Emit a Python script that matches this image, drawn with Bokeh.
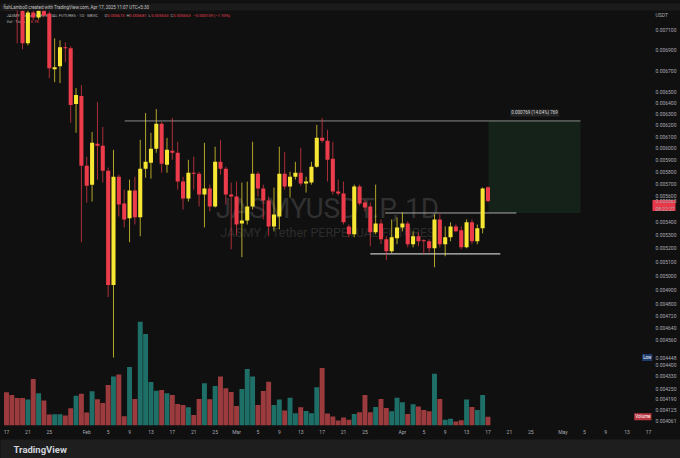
import math
from bokeh.plotting import figure
from bokeh.models import (Range1d, LinearScale, FixedTicker, PrintfTickFormatter, Label, Title,
                          ColumnDataSource, GlobalInlineStyleSheet)
from bokeh.embed import file_html
from bokeh.resources import INLINE

# ---------------- data (day index 0 = 2025-01-17, daily candles) ----------------
day_index = list(range(91))

open_ = [0.007900, 0.007640, 0.007480, 0.007360, 0.006970, 0.007284, 0.007233, 0.007305, 0.007274, 0.006717,
         0.006745, 0.006931, 0.006921, 0.006391, 0.006464, 0.005851, 0.005695, 0.006038, 0.006020, 0.005810,
         0.004933, 0.005760, 0.005543, 0.005427, 0.005647, 0.005435, 0.005826, 0.005876, 0.005995, 0.006212,
         0.005860, 0.005978, 0.005961, 0.005720, 0.005583, 0.005793, 0.005785, 0.005615, 0.005663, 0.005520,
         0.005884, 0.005826, 0.005615, 0.005599, 0.005388, 0.005411, 0.005520, 0.005785, 0.005663, 0.005567,
         0.005365, 0.005442, 0.005785, 0.005679, 0.005760, 0.005793, 0.005704, 0.005712, 0.005843, 0.006089,
         0.006063, 0.005909, 0.005639, 0.005623, 0.005365, 0.005305, 0.005679, 0.005551, 0.005520, 0.005320,
         0.005388, 0.005267, 0.005177, 0.005275, 0.005357, 0.005388, 0.005230, 0.005290, 0.005260, 0.005252,
         0.005200, 0.005419, 0.005230, 0.005282, 0.005365, 0.005335, 0.005207, 0.005396, 0.005252, 0.005350,
         0.005673]
high = [0.007960, 0.007720, 0.007560, 0.007400, 0.007357, 0.007315, 0.007367, 0.007357, 0.007295, 0.007020,
        0.007000, 0.006980, 0.006941, 0.006538, 0.006566, 0.005927, 0.006141, 0.006409, 0.006185, 0.005835,
        0.005986, 0.005777, 0.005655, 0.005736, 0.005760, 0.006072, 0.006309, 0.006133, 0.006345, 0.006229,
        0.006089, 0.006265, 0.006055, 0.005760, 0.005901, 0.005927, 0.005801, 0.006046, 0.005695, 0.006012,
        0.006072, 0.005843, 0.005712, 0.005720, 0.005712, 0.005720, 0.006055, 0.005801, 0.005695, 0.005599,
        0.005671, 0.006012, 0.005969, 0.005801, 0.005884, 0.006003, 0.005760, 0.005884, 0.006203, 0.006265,
        0.006159, 0.006055, 0.005736, 0.005720, 0.005380, 0.005695, 0.005695, 0.005575, 0.005551, 0.005695,
        0.005419, 0.005290, 0.005419, 0.005435, 0.005473, 0.005404, 0.005327, 0.005320, 0.005267, 0.005267,
        0.005458, 0.005458, 0.005365, 0.005396, 0.005380, 0.005365, 0.005419, 0.005419, 0.005380, 0.005671,
        0.005681]
low = [0.007580, 0.007420, 0.006970, 0.006911, 0.006950, 0.007202, 0.007212, 0.007233, 0.006632, 0.006594,
       0.006585, 0.006784, 0.006221, 0.006133, 0.005245, 0.005551, 0.005559, 0.005736, 0.005712, 0.004850,
       0.004448, 0.005442, 0.005357, 0.005245, 0.005380, 0.005290, 0.005752, 0.005744, 0.005961, 0.005793,
       0.005793, 0.005901, 0.005655, 0.005496, 0.005559, 0.005655, 0.005520, 0.005357, 0.005481, 0.005512,
       0.005777, 0.005535, 0.005192, 0.005297, 0.005134, 0.005380, 0.005496, 0.005599, 0.005419, 0.005290,
       0.005327, 0.005342, 0.005655, 0.005591, 0.005736, 0.005687, 0.005631, 0.005695, 0.005835, 0.006046,
       0.005720, 0.005615, 0.005607, 0.005380, 0.005282, 0.005282, 0.005528, 0.005481, 0.005215, 0.005305,
       0.005230, 0.005112, 0.005163, 0.005230, 0.005327, 0.005207, 0.005207, 0.005215, 0.005156, 0.005170,
       0.005061, 0.005207, 0.005141, 0.005252, 0.005320, 0.005192, 0.005200, 0.005230, 0.005230, 0.005312,
       0.005553]
close = [0.007640, 0.007480, 0.007360, 0.006970, 0.007284, 0.007233, 0.007305, 0.007253, 0.006726, 0.006736,
         0.006931, 0.006921, 0.006382, 0.006473, 0.005851, 0.005687, 0.006046, 0.006020, 0.005810, 0.004933,
         0.005760, 0.005535, 0.005419, 0.005647, 0.005435, 0.005826, 0.005884, 0.005995, 0.006212, 0.005868,
         0.005986, 0.005961, 0.005720, 0.005583, 0.005793, 0.005785, 0.005615, 0.005663, 0.005520, 0.005884,
         0.005826, 0.005615, 0.005599, 0.005380, 0.005411, 0.005520, 0.005785, 0.005663, 0.005567, 0.005365,
         0.005458, 0.005785, 0.005679, 0.005760, 0.005793, 0.005704, 0.005720, 0.005843, 0.006089, 0.006063,
         0.005901, 0.005639, 0.005623, 0.005396, 0.005305, 0.005679, 0.005543, 0.005512, 0.005320, 0.005388,
         0.005267, 0.005177, 0.005282, 0.005357, 0.005388, 0.005230, 0.005290, 0.005252, 0.005252, 0.005200,
         0.005419, 0.005230, 0.005282, 0.005365, 0.005327, 0.005207, 0.005396, 0.005252, 0.005350, 0.005663,
         0.005563]
volume = [100, 92, 83, 83, 78, 140, 97, 75, 33, 34, 34, 30, 52, 90, 96, 39, 103, 79, 68, 122,
          148, 154, 28, 176, 80, 313, 276, 131, 105, 107, 97, 92, 65, 62, 55, 32, 80, 127, 79, 119,
          148, 112, 101, 59, 110, 170, 148, 62, 104, 132, 62, 78, 45, 84, 37, 55, 44, 37, 115, 173,
          36, 27, 15, 24, 17, 35, 40, 92, 40, 56, 80, 53, 43, 84, 70, 35, 64, 57, 47, 43,
          156, 80, 17, 20, 12, 16, 78, 56, 47, 92, 26]

tick_days = [0, 4, 8, 15, 19, 23, 27, 31, 35, 39, 43, 47, 51, 55, 59, 63, 67, 74, 78, 82, 86, 90,
             94, 98, 104, 108, 112, 116, 120]
tick_labels = ["17", "21", "25", "Feb", "5", "9", "13", "17", "21", "25", "Mar", "5", "9", "13", "17",
               "21", "25", "Apr", "5", "9", "13", "17", "21", "25", "May", "5", "9", "13", "17"]
price_ticks = [0.0071, 0.0069, 0.0067, 0.0065, 0.0064, 0.0063, 0.0062, 0.0061, 0.0060, 0.0059, 0.0058,
               0.0057, 0.0056, 0.0054, 0.0053, 0.0052, 0.0051, 0.0050, 0.0049, 0.0048, 0.00472, 0.00464,
               0.00456, 0.0044, 0.00433, 0.00425, 0.00419, 0.004125, 0.004061]

# drawings: horizontal levels (start day, end day, price) and the projection box
level_start = [22.1, 70.8, 68.0]
level_end = [107.3, 95.3, 92.3]
level_price = [0.006238, 0.005469, 0.005159]
box_days = [90.1, 107.3]
box_prices = [0.005469, 0.006238]
low_mark = 0.004448
last_price_text = "0.005563\n08:22:27"

# ---------------- geometry ----------------
W, H = 680, 458
FX0, FX1, FY0, FY1 = 0, 652, 10, 427
X0, X1 = -1.12, 120.75
P_TOP, P_BOT = 0.007305, 0.004036
VOL_TOP = 1251
TAG_LEN = 23


def xd(px):
    return X0 + (px - FX0) / (FX1 - FX0) * (X1 - X0)


def yp(py):
    lt, lb = math.log(P_TOP), math.log(P_BOT)
    return math.exp(lt - (py - FY0) / (FY1 - FY0) * (lt - lb))


def py_of(price):
    lt, lb = math.log(P_TOP), math.log(P_BOT)
    return FY0 + (lt - math.log(price)) / (lt - lb) * (FY1 - FY0)


UP, DOWN = "#f7e633", "#ec3b4a"
VUP, VDOWN = "#1e6f67", "#9c3b3e"
BG = "#101010"
FONT = "Roboto"

up = [c >= o for o, c in zip(open_, close)]
src = ColumnDataSource(dict(
    x=day_index, o=open_, h=high, l=low, c=close, vol=volume,
    top=[max(o, c) for o, c in zip(open_, close)],
    bot=[min(o, c) for o, c in zip(open_, close)],
    col=[UP if u else DOWN for u in up],
    vcol=[VUP if u else VDOWN for u in up],
))

p = figure(width=W, height=H, output_backend="svg", toolbar_location=None,
           x_range=Range1d(X0, X1), y_range=Range1d(P_BOT, P_TOP), y_axis_type="log",
           y_axis_location="right", min_border_left=FX0, min_border_right=W - FX1,
           min_border_top=FY0, min_border_bottom=H - FY1,
           background_fill_color=BG, border_fill_color=BG, outline_line_color=None)
p.stylesheets = [GlobalInlineStyleSheet(css="html,body{margin:0;padding:0;background:#101010;overflow:hidden;}")]
p.grid.visible = False
p.extra_y_ranges = {"vol": Range1d(0, VOL_TOP)}
p.extra_y_scales = {"vol": LinearScale()}

# banner (above) and footer (below)
p.add_layout(Title(text="fishLambo0 created with TradingView.com, Apr 17, 2025 11:07 UTC+5:30",
                   align="left", offset=0, standoff=0, text_font=FONT, text_font_size="4.5px",
                   text_font_style="normal", text_color="#c4c4c4", background_fill_color="#1b1b1b",
                   padding=dict(left=3, right=640, top=1, bottom=1)), "above")
p.add_layout(Title(text="TradingView", align="left", offset=0, standoff=0, text_font=FONT,
                   text_font_size="9.5px", text_font_style="bold", text_color="#d1d4dc",
                   background_fill_color="#1e1e1e",
                   padding=dict(left=13, right=640, top=4, bottom=4)), "below")

# watermark
p.add_layout(Label(x=xd(327), y=yp(209), text="JASMYUSDT.P, 1D", text_font=FONT, text_font_size="28px",
                   text_color="#303030", text_align="center", text_baseline="middle", level="underlay"))
p.add_layout(Label(x=xd(327), y=yp(233), text="JASMY / Tether PERPETUAL FUTURES", text_font=FONT,
                   text_font_size="12.5px", text_color="#2c2c2c", text_align="center",
                   text_baseline="middle", level="underlay"))

# header legend (under candles)
hdr = dict(text_font=FONT, text_font_size="4.1px", text_baseline="middle", level="underlay")
p.add_layout(Label(x=xd(6), y=yp(15), text="JASMY · Tether PERPETUAL FUTURES · 1D · MEXC", text_color="#b4b4b4", **hdr))
for px, letter, val in [(104, "O", "0.005673"), (126, "H", "0.005681"), (148, "L", "0.005553"), (170, "C", "0.005563")]:
    p.add_layout(Label(x=xd(px), y=yp(15), text=letter, text_color="#b4b4b4", **hdr))
    p.add_layout(Label(x=xd(px + 2.8), y=yp(15), text=val, text_color="#e0414e", **hdr))
p.add_layout(Label(x=xd(193), y=yp(15), text="−0.000109 (−1.93%)", text_color="#e0414e", **hdr))
p.add_layout(Label(x=xd(6), y=yp(21), text="Vol · Ticks", text_color="#b4b4b4", **hdr))
p.add_layout(Label(x=xd(30), y=yp(21), text="5.7K", text_color="#e0414e", **hdr))

# volume
p.vbar(x="x", width=0.92, top="vol", bottom=0, source=src, fill_color="vcol", line_color=None,
       y_range_name="vol")

# projection box
p.quad(left=[box_days[0]], right=[box_days[1]], bottom=[box_prices[0]], top=[box_prices[1]],
       fill_color="#152219", line_color=None)

# level lines
p.segment(x0=level_start, x1=level_end, y0=level_price, y1=level_price,
          line_color=["#8a8a8a", "#a8a8a8", "#c4c4c4"], line_width=[1, 1, 1.3])

# candles
p.segment(x0="x", x1="x", y0="h", y1="l", source=src, line_color="col", line_alpha=0.7, line_width=1)
p.vbar(x="x", width=0.76, top="top", bottom="bot", source=src, fill_color="col", line_color=None)

# axes
xa = p.xaxis[0]
xa.ticker = FixedTicker(ticks=tick_days, minor_ticks=[])
xa.major_label_overrides = {d: t for d, t in zip(tick_days, tick_labels)}

tag_price = yp(py_of(close[-1]) + 4)   # centre of the last-price tag on the scale
usdt_price = yp(FY0 + 5)
ya = p.yaxis[0]
ya.ticker = FixedTicker(ticks=price_ticks + [tag_price, usdt_price, low_mark], minor_ticks=[tag_price])
ya.formatter = PrintfTickFormatter(format="%.6f")
ya.major_label_overrides = {tag_price: last_price_text, usdt_price: "USDT", low_mark: "0.004448"}
for ax in (xa, ya):
    ax.axis_line_color = None
    ax.major_tick_line_color = None
    ax.major_tick_out = 0
    ax.major_tick_in = 0
    ax.major_label_text_font = FONT
    ax.major_label_text_font_size = "5px"
    ax.major_label_text_color = "#a8abb3"
xa.minor_tick_line_color = None
xa.major_label_standoff = 3
# last-price tag drawn as a thick minor tick on the price scale
ya.minor_tick_line_color = "#e8394a"
ya.minor_tick_line_width = 11
ya.minor_tick_in = 0
ya.minor_tick_out = TAG_LEN
try:
    ya.major_label_standoff = 3 - TAG_LEN
except Exception:
    ya.major_label_standoff = 0

# in-chart annotations
tag = dict(text_font=FONT, text_font_size="4.5px", text_baseline="middle", padding=1)
p.add_layout(Label(x=(box_days[0] + box_days[1]) / 2, y=box_prices[1], y_offset=8,
                   text="0.000769 (14.04%) 769", text_align="center", text_color="#d8d8d8",
                   background_fill_color="#262626", **tag))
p.add_layout(Label(x=xd(652), y=low_mark, text="Low", text_align="right", text_color="white",
                   background_fill_color="#1d3a6e", **tag))
vol_py = FY1 - volume[-1] / VOL_TOP * (FY1 - FY0)
p.add_layout(Label(x=xd(651), y=yp(vol_py), text="Volume", text_align="right", text_color="white",
                   background_fill_color="#b8363f", **tag))

open("out.html", "w").write(file_html(p, INLINE))
